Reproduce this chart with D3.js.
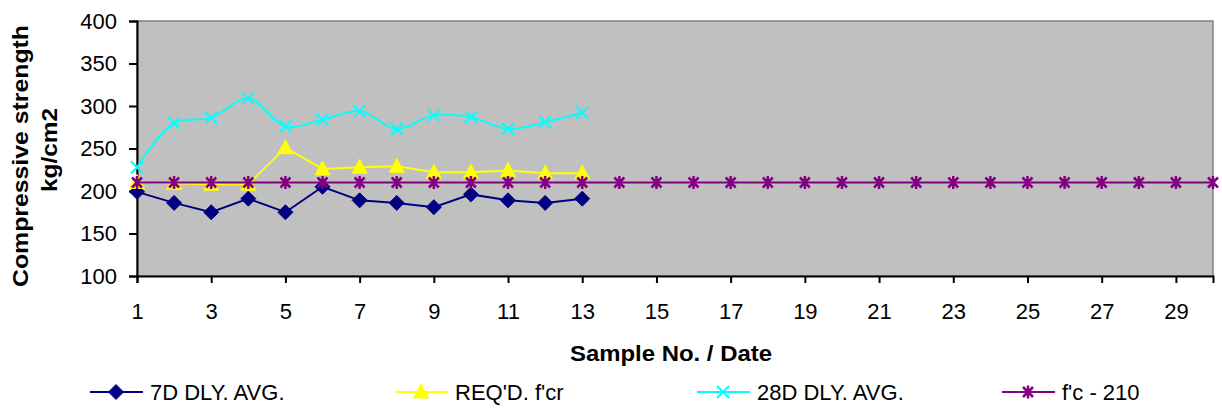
<!DOCTYPE html>
<html>
<head>
<meta charset="utf-8">
<script src="https://cdn.jsdelivr.net/npm/d3@7"></script>
<style>
  html, body { margin: 0; padding: 0; background: #ffffff; }
  svg { display: block; font-family: "Liberation Sans", Arial, sans-serif; }
</style>
</head>
<body>
<svg id="chart" width="1222" height="411"></svg>
<script>
// Sample numbers along the x axis
const samples = d3.range(1, 31);
const xTickValues = [1, 3, 5, 7, 9, 11, 13, 15, 17, 19, 21, 23, 25, 27, 29];
const yTickValues = [100, 150, 200, 250, 300, 350, 400];

// Compressive strength, kg/cm2
const avg7d   = [199, 186, 175, 191, 175, 205, 189, 186, 181, 196, 189, 186, 191];
const reqFcr  = [210, 209, 208, 208, 251, 226, 228, 229, 222, 222, 224, 221, 221];
const avg28d  = [228, 280, 286, 309, 276, 284, 294, 273, 289, 287, 273, 281, 292];
const fc210   = samples.map(() => 210);

const seriesNames = ["7D DLY. AVG.", "REQ'D. f'cr", "28D DLY. AVG.", "f'c - 210"];

const svg = d3.select("#chart");

const x = d3.scaleLinear().domain([1, 30]).range([137, 1213]);
const y = d3.scaleLinear().domain([100, 400]).range([276, 21]);

// Plot area
svg.append("rect")
  .attr("x", x(1)).attr("y", y(400))
  .attr("width", x(30) - x(1)).attr("height", y(100) - y(400))
  .attr("fill", "#c0c0c0")
  .attr("stroke", "#808080").attr("stroke-width", 1.5);

// Axes
const yAxis = d3.axisLeft(y).tickValues(yTickValues).tickSize(8).tickPadding(12);
const xAxis = d3.axisBottom(x).tickValues(xTickValues).tickSize(7).tickPadding(20);

const gy = svg.append("g").attr("transform", `translate(${x(1)},0)`).call(yAxis);
const gx = svg.append("g").attr("transform", `translate(0,${y(100)})`).call(xAxis);

[gx, gy].forEach(g => {
  g.attr("font-size", 22).attr("font-family", "'Liberation Sans', Arial, sans-serif");
  g.select(".domain").attr("stroke", "#000").attr("stroke-width", 2);
  g.selectAll(".tick line").attr("stroke", "#000").attr("stroke-width", 2);
  g.selectAll(".tick text")
    .attr("fill", "#000")
    .style("font-size", "22px");
});

// Marker shapes
const markerPaths = {
  diamond: "M0,-7.5L7.5,0L0,7.5L-7.5,0Z",
  triangle: "M0,-8L7.5,6L-7.5,6Z",
  cross: "M-6,-6L6,6M-6,6L6,-6",
  star: "M-5,-5L5,5M-5,5L5,-5M0,-6.5L0,6.5M-2,0L2,0"
};

const series = [
  { name: seriesNames[0], values: avg7d,  color: "#000080", marker: "diamond",  fill: true,  curve: d3.curveLinear },
  { name: seriesNames[1], values: reqFcr, color: "#ffff00", marker: "triangle", fill: true,  curve: d3.curveLinear },
  { name: seriesNames[2], values: avg28d, color: "#00ffff", marker: "cross",    fill: false, curve: d3.curveCatmullRom },
  { name: seriesNames[3], values: fc210,  color: "#800080", marker: "star",     fill: false, curve: d3.curveLinear }
];

const line = d3.line();

function drawMarker(sel, s) {
  sel.attr("d", markerPaths[s.marker])
    .attr("fill", s.fill ? s.color : "none")
    .attr("stroke", s.color)
    .attr("stroke-width", s.fill ? 1 : (s.marker === "star" ? 2.5 : 2));
}

series.forEach(s => {
  const pts = s.values.map((v, i) => [samples[i], v]);
  const g = svg.append("g");
  g.append("path")
    .attr("d", line.x(d => x(d[0])).y(d => y(d[1])).curve(s.curve)(pts))
    .attr("fill", "none")
    .attr("stroke", s.color)
    .attr("stroke-width", 2);
  g.selectAll("path.mk")
    .data(pts)
    .join("path")
    .attr("class", "mk")
    .attr("transform", d => `translate(${x(d[0])},${y(d[1])})`)
    .call(drawMarker, s);
});

// Axis titles
svg.append("text")
  .attr("x", 671).attr("y", 361)
  .attr("text-anchor", "middle")
  .style("font-size", "22px").style("font-weight", "bold")
  .attr("textLength", 202).attr("lengthAdjust", "spacingAndGlyphs")
  .text("Sample No. / Date");

svg.append("text")
  .attr("transform", "translate(28,156) rotate(-90)")
  .attr("text-anchor", "middle")
  .style("font-size", "22px").style("font-weight", "bold")
  .attr("textLength", 262).attr("lengthAdjust", "spacingAndGlyphs")
  .text("Compressive strength");

svg.append("text")
  .attr("transform", "translate(57,150) rotate(-90)")
  .attr("text-anchor", "middle")
  .style("font-size", "22px").style("font-weight", "bold")
  .attr("textLength", 84).attr("lengthAdjust", "spacingAndGlyphs")
  .text("kg/cm2");

// Legend
const legendX = [90, 395, 697, 1002];
const legendY = 392;
series.forEach((s, i) => {
  const g = svg.append("g").attr("transform", `translate(${legendX[i]},${legendY})`);
  g.append("line").attr("x1", 0).attr("x2", 53).attr("y1", 0).attr("y2", 0)
    .attr("stroke", s.color).attr("stroke-width", 2);
  g.append("path")
    .attr("transform", "translate(26,0)")
    .call(drawMarker, s);
  g.append("text")
    .attr("x", 60).attr("y", 8)
    .style("font-size", "22px")
    .attr("fill", "#000")
    .text(s.name);
});
</script>
</body>
</html>
